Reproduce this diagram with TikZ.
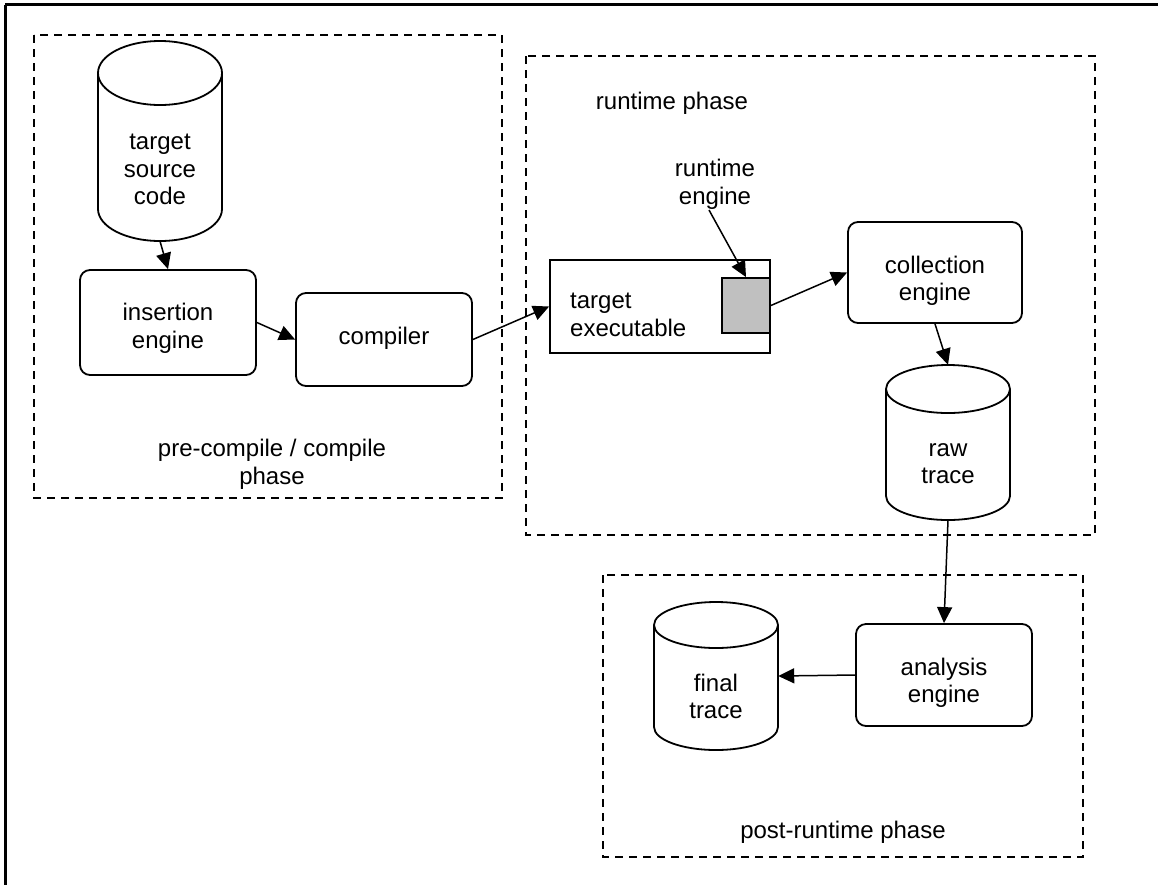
\documentclass[tikz,border=0pt]{standalone}
\usepackage{fontspec}
\setmainfont{Liberation Sans}
\usetikzlibrary{arrows.meta,calc}
\begin{document}
\begin{tikzpicture}[x=1pt,y=-1pt,
  txt/.style={font=\fontsize{24}{27.5}\selectfont, align=center, inner sep=0pt},
  rbox/.style={draw, line width=1.8pt, rounded corners=10pt, inner sep=0pt},
  sbox/.style={draw, line width=1.8pt, inner sep=0pt},
  shapenode/.style={inner sep=0pt},
  phasebox/.style={draw, line width=1.8pt, dash pattern=on 8pt off 6pt},
  conn/.style={line width=1.5pt, -{Triangle[length=16pt,width=15pt]}},
  cylline/.style={line width=1.8pt},
  border/.style={line width=2.7pt}
]
\useasboundingbox (0,0) rectangle (1158,884);
% outer border (only top and left visible)
\draw[border] (5.3,4.7) -- (1160,4.7);
\draw[border] (5.3,4.7) -- (5.3,890);

% phase boxes
\draw[phasebox] (34,35) rectangle (502,498);
\draw[phasebox] (526,56) rectangle (1095,535);
\draw[phasebox] (603,575) rectangle (1083,857);

% phase labels
\node[txt] (lpre) at (272,464.5) {pre-compile / compile\\phase};
\node[txt] (lrun) at (672,103) {runtime phase};
\node[txt] (lpost) at (843,832) {post-runtime phase};

% cylinder: target source code
\node[shapenode, minimum width=124pt, minimum height=200pt] (tscc) at (160,141) {};
\draw[cylline, fill=white] (98,73) -- (98,209) arc[start angle=180, end angle=0, x radius=62, y radius=32] -- (222,73);
\draw[cylline] (160,73) ellipse [x radius=62, y radius=32];
\node[txt] (tsct) at (160,169.5) {target\\source\\code};

% insertion engine
\node[rbox, minimum width=176pt, minimum height=105pt] (ins) at (168,322.5) {};
\node[txt] (inst) at (168,328.5) {insertion\\engine};

% compiler
\node[rbox, minimum width=176pt, minimum height=93pt] (comp) at (384,339.5) {};
\node[txt] (compt) at (384,338.5) {compiler};

% target executable
\node[sbox, minimum width=220pt, minimum height=93pt] (texe) at (660,306.5) {};
\node[txt, align=left, anchor=west] (texet) at (570,315) {target\\executable};
\node[sbox, fill={rgb,255:red,192;green,192;blue,192}, minimum width=48pt, minimum height=55pt] (gray) at (746,305.5) {};

% runtime engine label
\node[txt] (rte) at (715,184.5) {runtime\\engine};
\coordinate (rtestart) at (709,210);

% collection engine
\node[rbox, minimum width=174pt, minimum height=101pt] (coll) at (935,272.5) {};
\node[txt] (collt) at (935,281) {collection\\engine};

% raw trace cylinder
\node[shapenode, minimum width=124pt, minimum height=155pt] (rawc) at (948,442.5) {};
\draw[cylline, fill=white] (886,389) -- (886,496) arc[start angle=180, end angle=0, x radius=62, y radius=24] -- (1010,389);
\draw[cylline] (948,389) ellipse [x radius=62, y radius=24];
\node[txt] (rawt) at (948,463.5) {raw\\trace};

% analysis engine
\node[rbox, minimum width=176pt, minimum height=102pt] (ana) at (944,675) {};
\node[txt] (anat) at (944,683) {analysis\\engine};

% final trace cylinder
\node[shapenode, minimum width=124pt, minimum height=148pt] (finc) at (716,676) {};
\draw[cylline, fill=white] (654,625) -- (654,727) arc[start angle=180, end angle=0, x radius=62, y radius=23] -- (778,625);
\draw[cylline] (716,625) ellipse [x radius=62, y radius=23];
\node[txt] (fint) at (716,696.5) {final\\trace};

% connectors
\draw[conn] (tscc.south) -- (ins.north);
\draw[conn] (ins.east) -- (comp.west);
\draw[conn] (comp.east) -- (texe.west);
\draw[conn] (rtestart) -- (gray.north);
\draw[conn] (gray.east) -- (coll.west);
\draw[conn] (coll.south) -- (rawc.north);
\draw[conn] (rawc.south) -- (ana.north);
\draw[conn] (ana.west) -- (finc.east);
\end{tikzpicture}
\end{document}
